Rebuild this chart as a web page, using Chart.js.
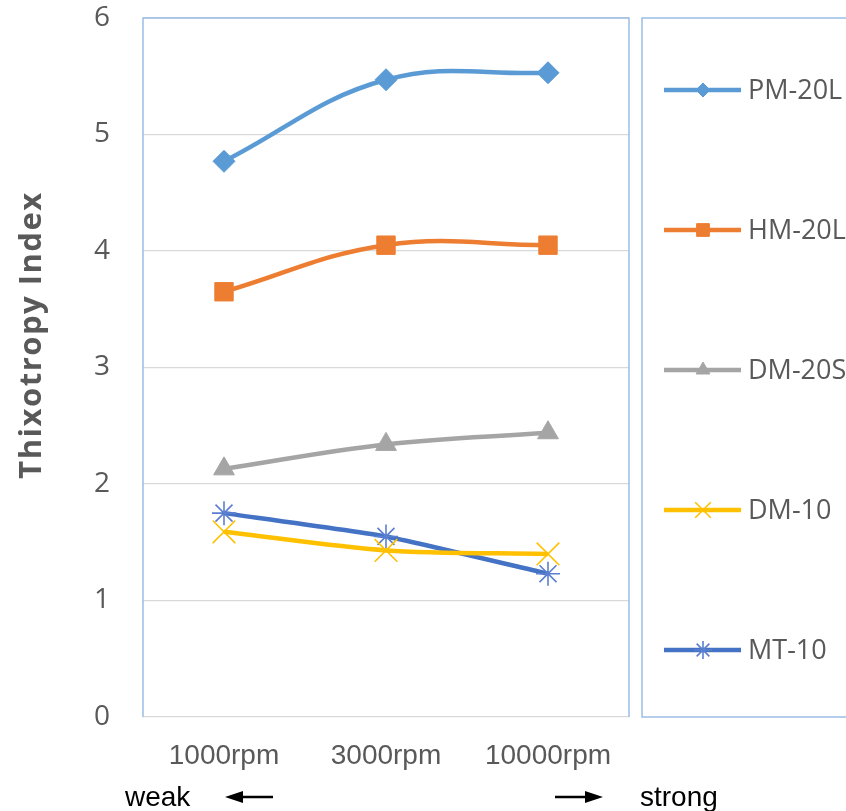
<!DOCTYPE html>
<html>
<head>
<meta charset="utf-8">
<script src="https://cdn.jsdelivr.net/npm/chart.js@4.4.1/dist/chart.umd.min.js"></script>
<style>
html,body{margin:0;padding:0;background:#fff;}
#wrap{width:846px;height:811px;position:relative;}
</style>
</head>
<body>
<div id="wrap"><canvas id="c"></canvas></div>
<script>
const categories = ['1000rpm', '3000rpm', '10000rpm'];
const seriesNames = ['PM-20L', 'HM-20L', 'DM-20S', 'DM-10', 'MT-10'];
const pm20L = [4.77, 5.47, 5.53];
const hm20L = [3.65, 4.05, 4.05];
const dm20S = [2.13, 2.34, 2.44];
const dm10  = [1.59, 1.43, 1.40];
const mt10  = [1.75, 1.55, 1.23];
const yTicks = [0, 1, 2, 3, 4, 5, 6];
const yTitle = 'Thixotropy Index';
const leftNote = 'weak';
const rightNote = 'strong';

const colors = ['#5b9bd5', '#ed7d31', '#a5a5a5', '#ffc000', '#4472c4'];
const styles = ['rectRot', 'rect', 'triangle', 'crossRot', 'star'];
const radii = [11, 13, 12, 16, 12];
const legendRadii = [7, 9, 8, 11, 9];
const tensions = [0.4, 0.4, 0.4, 0.3, 0.15];
const values = [pm20L, hm20L, dm20S, dm10, mt10];

const datasets = seriesNames.map((name, i) => ({
  label: name,
  data: values[i],
  borderColor: colors[i],
  backgroundColor: colors[i],
  pointBorderColor: i === 4 ? '#5b7fd0' : colors[i],
  pointBackgroundColor: colors[i],
  pointStyle: styles[i],
  pointRadius: radii[i],
  pointBorderWidth: (i >= 3) ? 1.6 : 1,
  borderWidth: 4.5,
  tension: tensions[i],
  fill: false
}));

const decor = {
  id: 'decor',
  beforeDatasetsDraw(chart) {
    const ctx = chart.ctx, a = chart.chartArea;
    ctx.save();
    ctx.strokeStyle = '#9bbde6';
    ctx.lineWidth = 1.5;
    ctx.beginPath();
    ctx.moveTo(a.left, a.bottom);
    ctx.lineTo(a.left, a.top);
    ctx.lineTo(a.right, a.top);
    ctx.lineTo(a.right, a.bottom);
    ctx.stroke();
    ctx.restore();
  },
  afterDraw(chart) {
    const ctx = chart.ctx, a = chart.chartArea;
    ctx.save();
    ctx.fillStyle = '#595959';
    ctx.font = 'bold 31px "Open Sans", sans-serif';
    if ('letterSpacing' in ctx) ctx.letterSpacing = '1.5px';
    ctx.textAlign = 'center';
    ctx.textBaseline = 'middle';
    ctx.translate(32, 335);
    ctx.rotate(-Math.PI / 2);
    ctx.fillText(yTitle, 0, 0);
    ctx.restore();

    ctx.save();
    ctx.strokeStyle = '#9bbde6';
    ctx.lineWidth = 1.5;
    ctx.strokeRect(642, a.top, 846 - 642 + 10, a.bottom - a.top);
    const ys = [90, 230, 370, 510, 650];
    chart.data.datasets.forEach((ds, i) => {
      const y = ys[i];
      ctx.strokeStyle = ds.borderColor;
      ctx.lineWidth = 4.5;
      ctx.lineCap = 'butt';
      ctx.beginPath();
      ctx.moveTo(664, y);
      ctx.lineTo(741, y);
      ctx.stroke();
      ctx.fillStyle = ds.pointBackgroundColor;
      ctx.strokeStyle = ds.pointBorderColor;
      ctx.lineWidth = ds.pointBorderWidth;
      Chart.helpers.drawPoint(ctx, {pointStyle: ds.pointStyle, radius: legendRadii[i], rotation: 0, borderWidth: ds.pointBorderWidth}, 703, y);
      ctx.fillStyle = '#595959';
      ctx.font = '27px "Open Sans", sans-serif';
      ctx.textAlign = 'left';
      ctx.textBaseline = 'middle';
      ctx.fillText(ds.label, 748, y + 1);
    });
    ctx.restore();

    ctx.save();
    ctx.fillStyle = '#000';
    ctx.strokeStyle = '#000';
    ctx.font = '28px "Liberation Sans", Arial, sans-serif';
    ctx.textBaseline = 'middle';
    ctx.textAlign = 'left';
    ctx.fillText(leftNote, 125, 798);
    ctx.fillText(rightNote, 640, 798);
    ctx.lineWidth = 2.5;
    ctx.beginPath();
    ctx.moveTo(273, 797); ctx.lineTo(240, 797);
    ctx.moveTo(555, 797); ctx.lineTo(588, 797);
    ctx.stroke();
    ctx.beginPath();
    ctx.moveTo(225, 797); ctx.lineTo(243, 791); ctx.lineTo(243, 803); ctx.closePath();
    ctx.moveTo(603, 797); ctx.lineTo(585, 791); ctx.lineTo(585, 803); ctx.closePath();
    ctx.fill();
    ctx.restore();
  }
};

new Chart(document.getElementById('c'), {
  type: 'line',
  data: { labels: categories, datasets },
  plugins: [decor],
  options: {
    responsive: true,
    maintainAspectRatio: false,
    animation: false,
    layout: { padding: { top: 18, right: 217, left: 0, bottom: 0 } },
    plugins: { legend: { display: false }, tooltip: { enabled: false } },
    scales: {
      x: {
        offset: true,
        grid: { display: false, drawTicks: false },
        border: { display: false },
        ticks: { color: '#595959', font: { family: '"Liberation Sans", Arial, sans-serif', size: 28 }, padding: 22, maxRotation: 0 },
        afterFit(s) { s.height = 94; s.paddingLeft = 0; s.paddingRight = 0; }
      },
      y: {
        min: 0, max: 6,
        afterBuildTicks(s) { s.ticks = yTicks.map(v => ({ value: v })); },
        grid: { color: '#d9d9d9', lineWidth: 1.2, drawTicks: false },
        border: { display: false },
        ticks: { color: '#595959', font: { family: '"Open Sans", sans-serif', size: 28 }, padding: 33 },
        afterFit(s) { s.width = 143; s.paddingTop = 0; s.paddingBottom = 0; }
      }
    }
  }
});
</script>
</body>
</html>
